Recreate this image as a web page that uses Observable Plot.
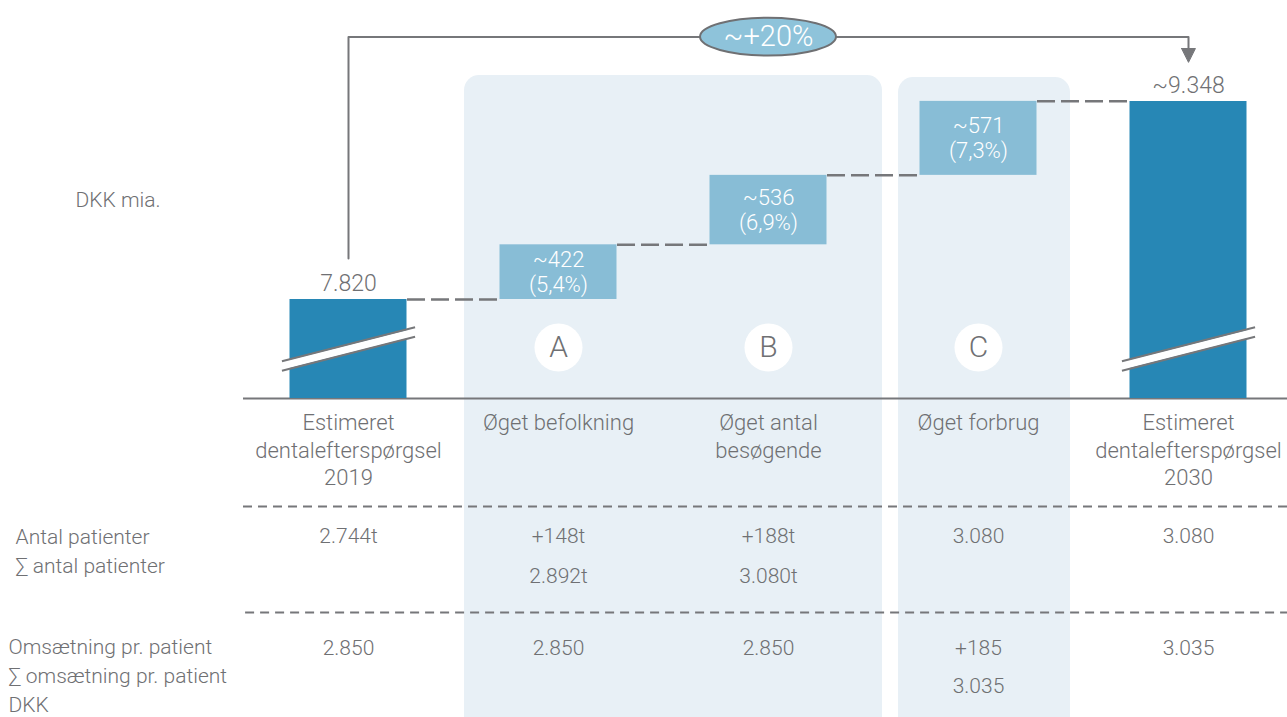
<!DOCTYPE html>
<html><head><meta charset="utf-8">
<script src="https://cdn.jsdelivr.net/npm/d3@7"></script>
<script src="https://cdn.jsdelivr.net/npm/@observablehq/plot@0.6"></script>
<style>html,body{margin:0;padding:0;background:#fff;overflow:hidden} svg{display:block}</style>
</head><body><div id="chart"></div>
<script>
// ---- data ----
const categories = ["Estimeret\ndentalefterspørgsel\n2019", "Øget befolkning", "Øget antal\nbesøgende", "Øget forbrug", "Estimeret\ndentalefterspørgsel\n2030"];
const kinds = ["total", "step", "step", "step", "total"];
const values = [7820, 422, 536, 571, 9348];
const valueLabels = ["7.820", "~422\n(5,4%)", "~536\n(6,9%)", "~571\n(7,3%)", "~9.348"];
const drivers = ["", "A", "B", "C", ""];
const patientsCells = [["2.744t"], ["+148t", "2.892t"], ["+188t", "3.080t"], ["3.080"], ["3.080"]];
const revenueCells = [["2.850"], ["2.850"], ["2.850"], ["+185", "3.035"], ["3.035"]];
const patientsLabels = ["Antal patienter", "∑ antal patienter"];
const revenueLabels = ["Omsætning pr. patient", "∑ omsætning pr. patient", "DKK"];
const unitLabel = "DKK mia.";
const totalChange = "~+20%";
const axisBase = 7056;      // visible bottom of the broken value axis
const bracketFrom = 8136, bracketTop = 9845, arrowBase = 9757, arrowTip = 9650;
const breakAt = 7438;

// ---- derived waterfall table ----
let cum = 0;
const bars = values.map((v, i) => {
  let y1, y2;
  if (kinds[i] === "total") { y1 = axisBase; y2 = v; cum = v; }
  else { y1 = cum; y2 = cum + v; cum = y2; }
  return {i, kind: kinds[i], y1, y2, label: valueLabels[i], cat: categories[i], driver: drivers[i]};
});
const connectors = bars.slice(0, -1).map((b, i) => ({i, level: b.y2}));
const totals = bars.filter(b => b.kind === "total");
const steps = bars.filter(b => b.kind === "step");
const cellLine = (rows, k) => rows.map((lines, i) => ({i, t: lines[k]})).filter(d => d.t !== undefined);

const gray = "#6f7073";
const ruleGray = "#76777a";
const dark = "#2787b5";
const light = "#88bdd6";
const panel = "#e8f0f6";
const FONT = "Roboto, 'Open Sans', sans-serif";

// table text (row offsets below the baseline)
const tableMarks = [];
[[patientsCells, [138, 178]], [revenueCells, [250, 288]]].forEach(([rows, dys]) => {
  dys.forEach((dy, k) => {
    tableMarks.push(Plot.text(cellLine(rows, k), {x: "i", y: axisBase, dy, text: "t", fill: gray, fontSize: 21}));
  });
});
[[patientsLabels, 15, [139, 168]], [revenueLabels, 8, [249, 278, 307]]].forEach(([labels, dx, dys]) => {
  labels.forEach((t, k) => {
    tableMarks.push(Plot.text([t], {frameAnchor: "left", y: axisBase, dx, dy: dys[k], text: d => d, textAnchor: "start", fill: gray, fontSize: 21}));
  });
});

const chart = Plot.plot({
  width: 1287, height: 717,
  marginTop: 0, marginBottom: 0, marginLeft: 0, marginRight: 0,
  x: {type: "linear", domain: [-0.5, 4.5], range: [243, 1293], axis: null},
  y: {type: "linear", domain: [axisBase, 9348], range: [398, 101], axis: null},
  style: {fontFamily: FONT, fontWeight: 300, color: gray, background: "#fff"},
  marks: [
    // highlighted panels
    Plot.barX([{x1: 0.5, x2: 2.5}], {x1: "x1", x2: "x2", fill: panel, rx: 15, insetLeft: 11, insetRight: -9, insetTop: 75, insetBottom: -40}),
    Plot.barX([{x1: 2.5, x2: 3.5}], {x1: "x1", x2: "x2", fill: panel, rx: 15, insetLeft: 25, insetRight: 13, insetTop: 77, insetBottom: -40}),
    // baseline
    Plot.ruleY([axisBase], {x1: -0.5, x2: 4.5, stroke: ruleGray, strokeWidth: 2}),
    // table separators
    Plot.ruleY([axisBase], {x1: -0.5, x2: 4.5, dy: 108, stroke: ruleGray, strokeWidth: 2, strokeDasharray: "9,6"}),
    Plot.ruleY([axisBase], {x1: -0.49, x2: 4.5, dy: 214, stroke: ruleGray, strokeWidth: 2, strokeDasharray: "9,6"}),
    // bars
    Plot.rectY(bars, {x1: d => d.i - 0.5, x2: d => d.i + 0.5, y1: "y1", y2: "y2", fill: d => d.kind === "total" ? dark : light, insetLeft: 46.5, insetRight: 46.5}),
    // connectors
    Plot.link(connectors, {x1: d => d.i + 0.5 - 0.2214, x2: d => d.i + 0.5 + 0.2214, y1: "level", y2: "level", stroke: ruleGray, strokeWidth: 2.5, strokeDasharray: "18,6"}),
    // axis break marks
    Plot.link(totals, {x1: d => d.i - 0.317, x2: d => d.i + 0.317, y1: breakAt - 131, y2: breakAt + 131, stroke: "#fff", strokeWidth: 8}),
    Plot.link(totals, {x1: d => d.i - 0.317, x2: d => d.i + 0.317, y1: breakAt - 131, y2: breakAt + 131, dy: -4.8, stroke: ruleGray, strokeWidth: 2}),
    Plot.link(totals, {x1: d => d.i - 0.317, x2: d => d.i + 0.317, y1: breakAt - 131, y2: breakAt + 131, dy: 4.8, stroke: ruleGray, strokeWidth: 2}),
    // value labels
    Plot.text(totals, {x: "i", y: "y2", dy: -16, text: "label", fill: gray, fontSize: 23}),
    Plot.text(steps, {x: "i", y: d => (d.y1 + d.y2) / 2, dy: -1, text: "label", fill: "#fff", fontSize: 22, lineHeight: 1.14}),
    // driver circles
    Plot.dot(bars.filter(d => d.driver), {x: "i", y: axisBase, dy: -51, r: 24, fill: "#fff", stroke: null}),
    Plot.text(bars.filter(d => d.driver), {x: "i", y: axisBase, dy: -51, text: "driver", fill: gray, fontSize: 30}),
    // bracket with total change
    Plot.line([{x: 0, y: bracketFrom}, {x: 0, y: bracketTop}, {x: 4, y: bracketTop}, {x: 4, y: arrowBase}], {x: "x", y: "y", stroke: ruleGray, strokeWidth: 2}),
    Plot.line([{x: 3.967, y: arrowBase}, {x: 4.033, y: arrowBase}, {x: 4, y: arrowTip}, {x: 3.967, y: arrowBase}], {x: "x", y: "y", fill: ruleGray, stroke: ruleGray, strokeWidth: 1}),
    Plot.rect([{x: 2}], {x1: d => d.x - 0.5, x2: d => d.x + 0.5, y1: bracketTop - 146, y2: bracketTop + 146, insetLeft: 37, insetRight: 37, rx: 68, ry: 19, fill: "#8ec3da", stroke: gray, strokeWidth: 2}),
    Plot.text([totalChange], {x: 2, y: bracketTop, text: d => d, fill: "#fff", fontSize: 29}),
    // unit label
    Plot.text([unitLabel], {frameAnchor: "top-left", dx: 75, dy: 200, lineAnchor: "middle", text: d => d, textAnchor: "start", fill: gray, fontSize: 21}),
    // category labels
    Plot.text(bars, {x: "i", y: axisBase, dy: 12, lineAnchor: "top", text: "cat", fill: gray, fontSize: 22, lineHeight: 1.25}),
    ...tableMarks
  ]
});
document.getElementById("chart").appendChild(chart);
</script>
</body></html>
